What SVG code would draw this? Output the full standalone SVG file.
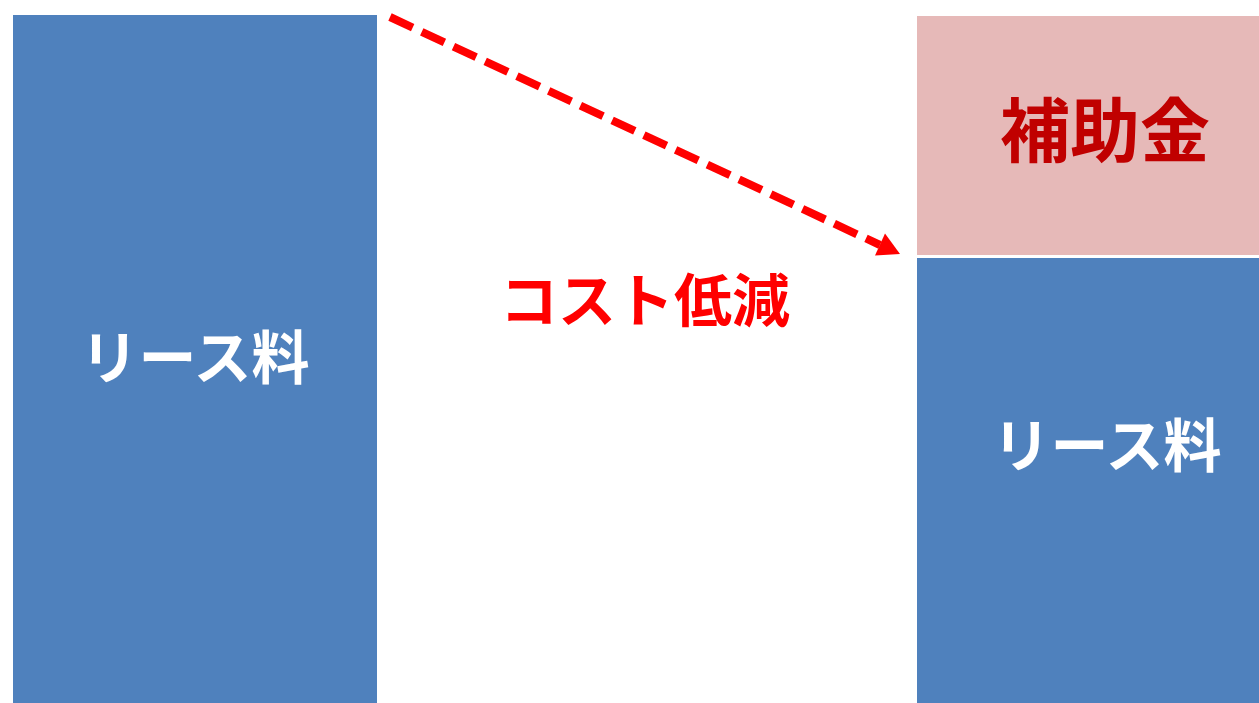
<svg xmlns="http://www.w3.org/2000/svg" width="1259" height="703" viewBox="0 0 1259 703">
<style>
text{font-family:"Noto Sans CJK JP","Noto Sans",sans-serif;font-weight:bold;text-anchor:middle}
.lease{fill:#4F81BD}
.wt{fill:#FFFFFF;font-size:58px}
</style>
<rect width="1259" height="703" fill="#FFFFFF"/>
<g id="left-lease">
<rect class="lease" x="13" y="15" width="364" height="688"/>
<text class="wt" x="195" y="379">リース料</text>
</g>
<g id="subsidy">
<rect x="917" y="16" width="342" height="239" fill="#E6B9B8"/>
<text x="1105" y="157" fill="#C00000" font-size="70">補助金</text>
</g>
<g id="right-lease">
<rect class="lease" x="917" y="258" width="342" height="445"/>
<text class="wt" x="1107" y="467">リース料</text>
</g>
<g id="label">
<text x="645" y="322" fill="#FF0000" font-size="58">コスト低減</text>
</g>
<g id="connectors">
<line x1="390" y1="17" x2="880" y2="245" stroke="#FF0000" stroke-width="8" stroke-dasharray="25,10"/>
<path d="M900,254 L885,233.5 L875,255.5 Z" fill="#FF0000"/>
</g>
</svg>
